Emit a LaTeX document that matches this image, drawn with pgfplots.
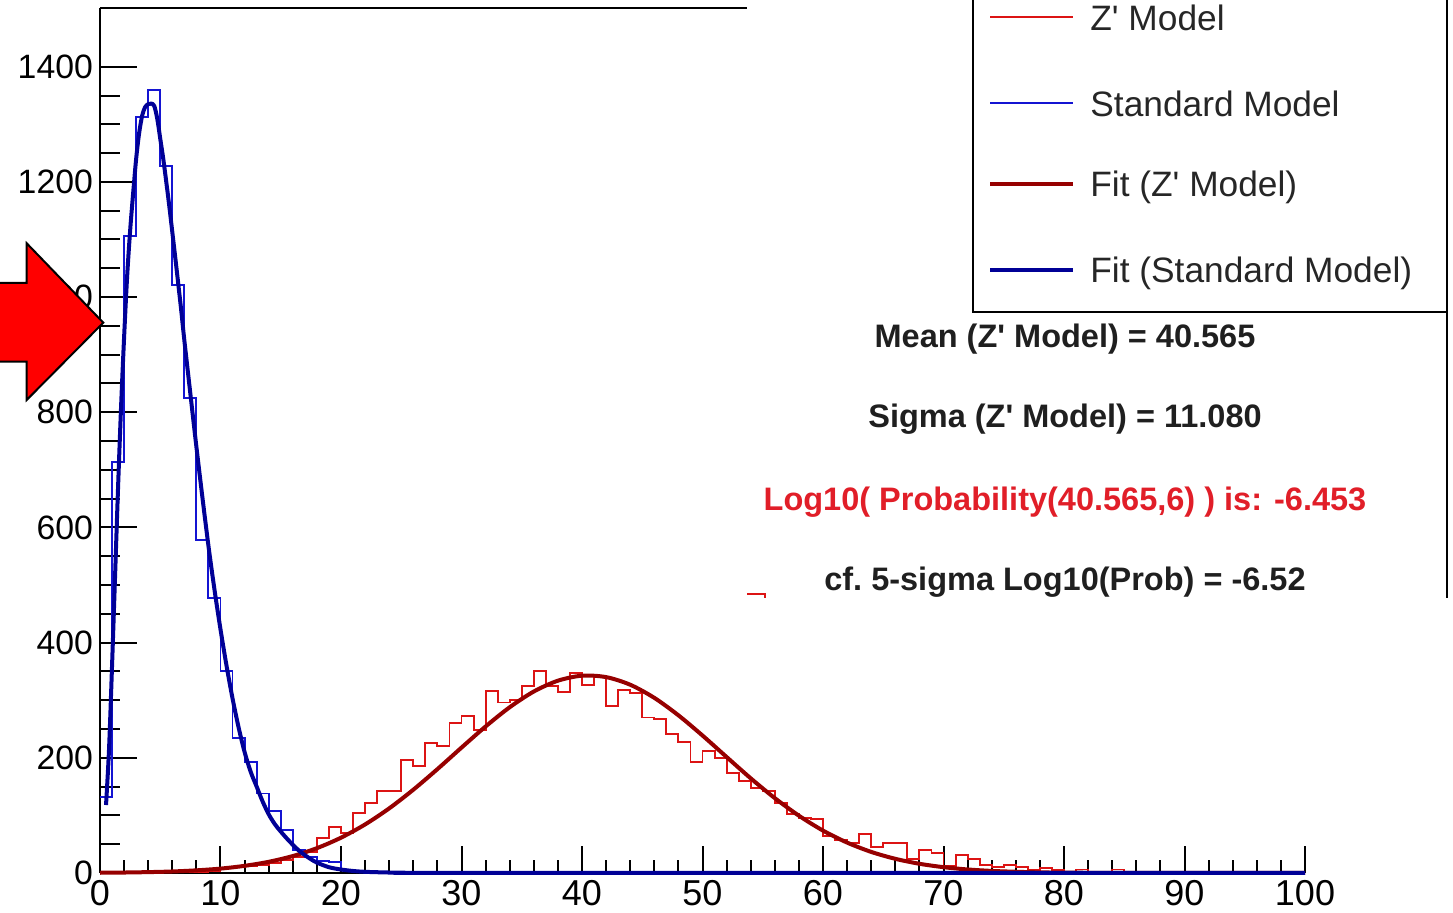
\documentclass[border=0pt]{standalone}
\usepackage{fontspec}
\setmainfont{Liberation Sans}
\usepackage{pgfplots}
\pgfplotsset{compat=1.18}

\definecolor{zhist}{RGB}{220,20,20}
\definecolor{smhist}{RGB}{20,20,210}
\definecolor{zfit}{RGB}{150,0,0}
\definecolor{smfit}{RGB}{0,0,150}
\definecolor{probred}{RGB}{225,30,40}

\begin{document}
\begin{tikzpicture}
% 1 px of the reference = 0.5pt, origin at the axis corner
\useasboundingbox (-50pt,-20pt) rectangle (676.5pt,436.5pt);
\clip (-50pt,-20pt) rectangle (676.5pt,436.5pt);
\begin{axis}[
  at={(0,0)}, anchor=south west,
  scale only axis, width=602.5pt, height=432.5pt,
  xmin=0, xmax=100, ymin=0, ymax=1502,
  clip=false,
  axis x line*=bottom, axis y line*=left,
  axis line style={line width=1.3pt},
  xtick={0,10,...,100}, minor x tick num=4,
  ytick={0,200,...,1400}, minor y tick num=3,
  tick align=inside,
  tick style={black, line width=1pt},
  xtick style={/pgfplots/major tick length=13.3pt, /pgfplots/minor tick length=6.7pt},
  ytick style={/pgfplots/major tick length=18.5pt, /pgfplots/minor tick length=10pt},
  yticklabel style={font=\fontsize{16.9}{20}\selectfont},
  xticklabel style={font=\fontsize{18}{21}\selectfont, inner sep=3.5pt},
  /pgf/number format/assume math mode=true,
  scaled ticks=false,
  yticklabel style={/pgf/number format/1000 sep={}},
]
% Z' model histogram (bins of width 1, left edges)
\addplot[const plot, zhist, line width=0.95pt] table {
0 0
5 1
6 1
7 2
8 2
9 3
10 8
11 11
12 12
13 14
14 17
15 22
16 28
17 36
18 60
19 80
20 70
21 104
22 121
23 143
24 143
25 196
26 186
27 225
28 221
29 261
30 273
31 248
32 316
33 296
34 300
35 324
36 351
37 325
38 315
39 348
40 327
41 340
42 290
43 317
44 313
45 270
46 267
47 241
48 228
49 192
50 212
51 199
52 173
53 160
54 147
55 143
56 121
57 103
58 96
59 93
60 64
61 58
62 52
63 68
64 45
65 52
66 52
67 24
68 40
69 35
70 12
71 31
72 24
73 14
74 11
75 14
76 11
77 5
78 8
79 5
80 1
81 6
82 1
83 0
84 6
85 0
100 0
};
% Standard Model histogram
\addplot[const plot, smhist, line width=0.95pt] table {
0 132
1 714
2 1106
3 1313
4 1359
5 1227
6 1021
7 824
8 578
9 477
10 350
11 234
12 193
13 138
14 107
15 75
16 40
17 27
18 21
19 19
20 5
21 3
22 2
23 1
24 0
100 0
};
% fit (Z' model)
\addplot[zfit, line width=2pt, smooth] coordinates {
(0,0.4) (2,0.8) (4,1.5) (6,2.6) (8,4.6) (10,7.6) (12,12.4) (14,19.4)
(16,29.4) (18,43.1) (20,61.3) (22,84.3) (24,112.2) (26,144.6) (28,180.3)
(30,217.7) (32,254.4) (34,287.8) (36,315.1) (38,333.9) (40,342.6)
(42,340.1) (44,326.9) (46,304.1) (48,273.8) (50,238.7) (52,201.4)
(54,164.4) (56,130.0) (58,99.5) (60,73.6) (62,52.8) (64,36.6) (66,24.6)
(68,16.0) (70,10.1) (72,6.1) (74,3.6) (76,2.1) (78,1.1) (80,0.6)
(85,0.1) (90,0) (100,0)
};
% fit (Standard Model)
\addplot[smfit, line width=2pt, smooth] coordinates {
(0.5,118) (0.75,215) (1.0,360) (1.25,515) (1.5,670) (1.75,810) (2.0,930)
(2.25,1035) (2.5,1115) (2.75,1180) (3.0,1240) (3.25,1285) (3.5,1315)
(3.75,1330) (4.0,1335) (4.25,1336) (4.5,1332) (4.75,1310) (5.0,1275)
(5.25,1240) (5.5,1200) (5.75,1158) (6.0,1113) (6.25,1068) (6.5,1022)
(6.75,975) (7.0,925) (7.5,832) (8.0,740) (8.5,652) (9.0,568) (9.5,492)
(10.0,423) (10.5,360) (11.0,303) (11.5,253) (12.0,210) (12.5,176)
(13.0,150) (13.5,124) (14.0,102) (14.5,85) (15.0,72) (15.5,60) (16.0,49)
(16.5,39) (17.0,31) (17.5,24) (18.0,18) (19.0,10) (20.0,6) (21,3.5)
(22,2) (24,0.8) (26,0.3) (30,0) (100,0)
};
\draw[line width=1.3pt] (axis cs:0,1502) -- (axis cs:100,1502);
\end{axis}

% white patch with the legend and the fit results
\fill[white] (323.5pt,137.5pt) rectangle (690pt,450pt);
\draw[line width=1.2pt] (673.5pt,137.5pt) -- (673.5pt,450pt);
\draw[zhist, line width=0.95pt] (323.5pt,139.5pt) -- (332.5pt,139.5pt) -- (332.5pt,137.5pt);

\draw[line width=1.2pt, fill=white] (436.5pt,450pt) |- (673.5pt,280.5pt) -- (673.5pt,450pt);
\draw[zhist, line width=0.9pt] (445pt,428pt) -- (486.5pt,428pt);
\draw[smhist, line width=0.9pt] (445pt,385pt) -- (486.5pt,385pt);
\draw[zfit, line width=2pt] (445pt,344.5pt) -- (486.5pt,344.5pt);
\draw[smfit, line width=2pt] (445pt,301.5pt) -- (486.5pt,301.5pt);
\begin{scope}[every node/.style={anchor=west, inner sep=0pt, font=\fontsize{17.65}{20}\selectfont, text=black!85}]
\node at (495pt,427.5pt) {Z\textquotesingle{} Model};
\node at (495pt,384.5pt) {Standard Model};
\node at (495pt,343pt) {Fit (Z\textquotesingle{} Model)};
\node at (495pt,300pt) {Fit (Standard Model)};
\end{scope}

\begin{scope}[every node/.style={inner sep=0pt, font=\fontsize{16.25}{19}\bfseries\selectfont}]
\node[text=black!88] at (482.5pt,267pt) {Mean (Z\textquotesingle{} Model) = 40.565};
\node[text=black!88] at (482.5pt,227pt) {Sigma (Z\textquotesingle{} Model) = 11.080};
\node[text=probred] at (482.5pt,185.5pt) {Log10( Probability(40.565,6) ) is: -6.453};
\node[text=black!88] at (482.5pt,145.5pt) {cf.\ 5-sigma Log10(Prob) = -6.52};
\end{scope}

% red arrow
\draw[fill=red, line width=1pt, line join=miter]
  (-60pt,295pt) -- (-36.65pt,295pt) -- (-36.65pt,314.85pt) -- (1.65pt,275.15pt)
  -- (-36.65pt,236.5pt) -- (-36.65pt,255.65pt) -- (-60pt,255.65pt) -- cycle;
\end{tikzpicture}
\end{document}
